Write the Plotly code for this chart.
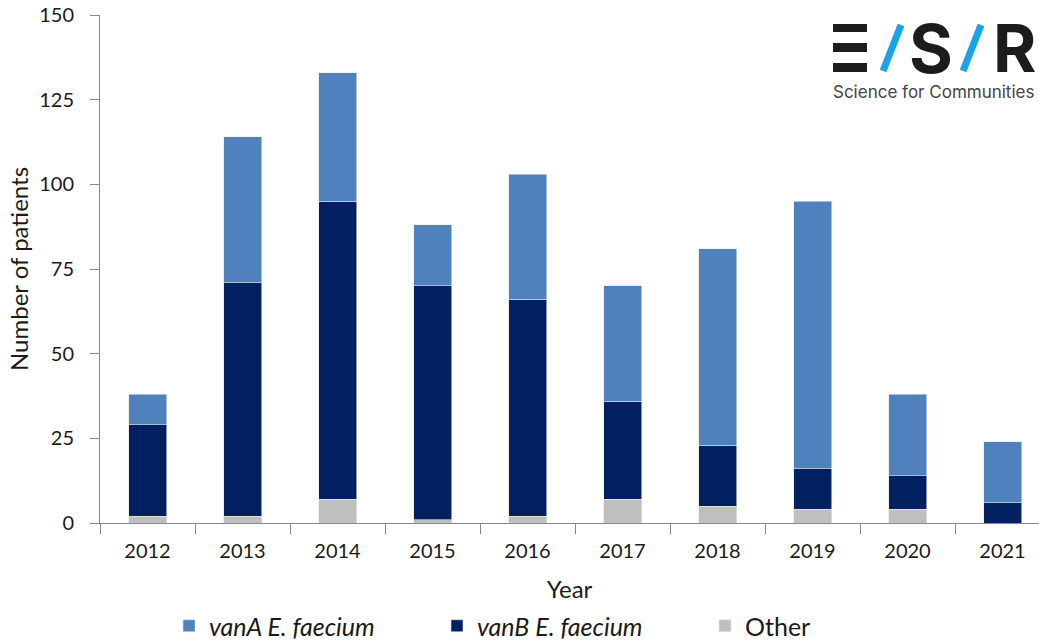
import plotly.graph_objects as go

years = ["2012", "2013", "2014", "2015", "2016", "2017", "2018", "2019", "2020", "2021"]
other = [2, 2, 7, 1, 2, 7, 5, 4, 4, 0]
vanB = [27, 69, 88, 69, 64, 29, 18, 12, 10, 6]
vanA = [9, 43, 38, 18, 37, 34, 58, 79, 24, 18]

C_A = "#4F81BD"
C_B = "#002060"
C_O = "#BFBFBF"
FONT = "Lato"

fig = go.Figure()
fig.add_trace(go.Bar(x=years, y=other, name="Other", marker=dict(color=C_O, line=dict(width=0.6, color="#E6E6E6"))))
fig.add_trace(go.Bar(x=years, y=vanB, name="<i>vanB E. faecium</i>", marker=dict(color=C_B, line=dict(width=0.6, color="#E6E6E6"))))
fig.add_trace(go.Bar(x=years, y=vanA, name="<i>vanA E. faecium</i>", marker=dict(color=C_A, line=dict(width=0.6, color="#E6E6E6"))))

fig.update_layout(
    width=1039, height=642,
    margin=dict(l=100, r=0, t=15, b=119, autoexpand=False),
    barmode="stack", bargap=0.6,
    plot_bgcolor="white", paper_bgcolor="white",
    font=dict(family=FONT, size=20, color="#1a1a1a"),
    legend=dict(orientation="h", traceorder="reversed",
                xref="container", x=169 / 1039, xanchor="left",
                yref="container", y=16 / 642, yanchor="middle",
                entrywidth=223, entrywidthmode="pixels",
                font=dict(family=FONT, size=25, color="#1a1a1a"), itemwidth=30),
    xaxis=dict(type="category", range=[-0.5, 9.384], tickson="boundaries",
               ticks="outside", ticklen=10, tickcolor="#888", showline=True,
               linecolor="#888", linewidth=1, showgrid=False, ticklabelstandoff=10,
               tickfont=dict(family=FONT, size=20, color="#1a1a1a"),
               title=dict(text="Year", font=dict(family=FONT, size=24, color="#1a1a1a"), standoff=26)),
    yaxis=dict(range=[0, 150], dtick=25, ticks="outside", ticklen=9, tickcolor="#888",
               showline=True, linecolor="#888", linewidth=1, showgrid=False, zeroline=False,
               ticklabelstandoff=12,
               tickfont=dict(family=FONT, size=20, color="#1a1a1a"),
               title=dict(text="Number of patients", font=dict(family=FONT, size=24, color="#1a1a1a"), standoff=3)),
)

# ESR logo
shapes = []
for (y0, y1) in [(24, 32), (43, 52), (63, 72)]:
    shapes.append(dict(type="rect", xref="paper", yref="paper",
                       x0=(833 - 100) / 939, x1=(867 - 100) / 939,
                       y0=(523 - y1) / 508, y1=(523 - y0) / 508,
                       fillcolor="#1c1c1c", line=dict(width=0), layer="above"))
for (xb, xt) in [(883, 901), (963, 981)]:
    shapes.append(dict(type="line", xref="paper", yref="paper",
                       x0=(xb - 100) / 939, x1=(xt - 100) / 939,
                       y0=(523 - 71) / 508, y1=(523 - 25) / 508,
                       line=dict(color="#1AA3E8", width=7), layer="above"))
fig.update_layout(shapes=shapes)

fig.add_annotation(text="<b>S</b>", xref="paper", yref="paper",
                   x=(931 - 100) / 939, y=(523 - 48) / 508, xanchor="center", yanchor="middle",
                   showarrow=False, font=dict(family="Inter", size=67, color="#1c1c1c"))
fig.add_annotation(text="<b>R</b>", xref="paper", yref="paper",
                   x=(1037 - 100) / 939, y=(523 - 48) / 508, xanchor="right", yanchor="middle",
                   showarrow=False, borderpad=0, font=dict(family="Inter", size=66, color="#1c1c1c"))
fig.add_annotation(text="Science for Communities", xref="paper", yref="paper",
                   x=(832 - 100) / 939, y=(523 - 92) / 508, xanchor="left", yanchor="middle",
                   showarrow=False, borderpad=0, font=dict(family="Inter", size=17, color="#444"))

fig.write_html("out.html")
